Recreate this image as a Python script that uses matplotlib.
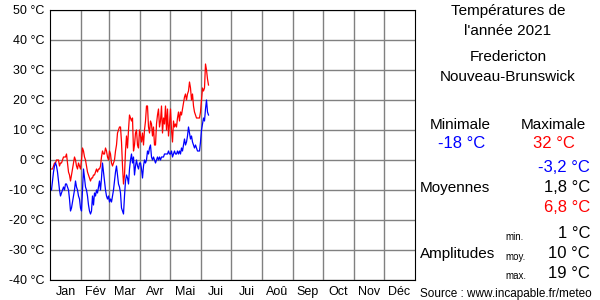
import numpy as np
import matplotlib.pyplot as plt

plt.rcParams['font.family'] = ['Liberation Sans', 'DejaVu Sans']

# daily max / min temperatures, from 1 January 2021
tmax = [-3, -3, -3, -2, -1, -1, 0, 0, 0, -2,
        -1, -1, 0, 1, 1, 1, 2, -1, -4, -5,
        -7, -5, -3, -1, 1, 0, -2, -3, -1, -2,
        -3, 0, 4, 3, 1, 0, -2, -4, -5, -6,
        -7, -6, -6, -5, -5, -4, -3, -4, -3, -3,
        -2, 1, 3, 2, 2, 4, 3, 1, 0, 3,
        2, -1, -2, -1, 0, 3, 5, 9, 10, 11,
        11, 6, -2, -8, -5, 3, 8, 4, 10, 15,
        14, 13, 14, 3, 5, 9, 10, 5, 4, 10,
        8, 6, 9, 5, 10, 13, 18, 18, 11, 9,
        13, 12, 8, 11, 5, 5, 12, 15, 17, 11,
        13, 18, 9, 14, 12, 18, 10, 17, 8, 12,
        17, 10, 6, 13, 11, 12, 11, 14, 16, 13,
        16, 15, 17, 19, 21, 22, 20, 22, 23, 26,
        24, 20, 22, 18, 16, 15, 14, 14, 14, 14,
        16, 20, 24, 23, 24, 32, 30, 27, 25]
tmin = [-10, -10, -7, -4, -2, -1, -2, -4, -7, -10,
        -12, -11, -10, -9, -10, -8, -8, -9, -10, -13,
        -17, -16, -14, -12, -10, -7, -9, -10, -12, -13,
        -16, -17, -10, -3, -6, -9, -10, -12, -15, -17,
        -18, -17, -12, -15, -11, -12, -10, -11, -9, -7,
        -10, -6, -1, -4, -7, -10, -12, -13, -12, -14,
        -13, -14, -12, -10, -7, -4, -2, -5, -8, -9,
        -11, -16, -17, -18, -12, -7, -5, -6, -8, -3,
        0, 2, -1, 1, -5, -2, 0, -2, -3, -1,
        -1, -3, -6, -2, 0, -1, 0, 3, 2, 4,
        5, 1, 0, 1, 0, -1, 0, 1, 0, 1,
        0, 1, 1, 1, 2, 2, 2, 2, 3, 2,
        2, 3, 1, 2, 3, 2, 2, 3, 2, 3,
        2, 4, 3, 5, 7, 5, 6, 8, 11, 9,
        7, 8, 6, 5, 4, 5, 4, 3, 3, 3,
        6, 10, 12, 14, 13, 17, 20, 16, 15]

months = ['Jan', 'Fév', 'Mar', 'Avr', 'Mai', 'Jui', 'Jui', 'Aoû', 'Sep', 'Oct', 'Nov', 'Déc']
month_len = [31, 28, 31, 30, 31, 30, 31, 31, 30, 31, 30, 31]

starts = np.concatenate([[0], np.cumsum(month_len)])
days = np.arange(len(tmax)) + 0.5

fig = plt.figure(figsize=(6, 3), dpi=100)
ax = fig.add_axes([50/600, 20/300, 365/600, 270/300])

ax.plot(days, tmax, color='red', lw=0.9)
ax.plot(days[:len(tmin)], tmin, color='blue', lw=0.9)

ax.set_xlim(0, 365)
ax.set_ylim(-40, 50)
ax.set_yticks(range(-40, 51, 10))
ax.set_yticklabels(['%d °C' % v for v in range(-40, 51, 10)], fontsize=9)
ax.set_xticks(starts[1:-1])
ax.set_xticklabels([])
ax.set_xticks((starts[:-1] + starts[1:]) / 2, minor=True)
ax.set_xticklabels(months, minor=True, fontsize=9)
ax.tick_params(which='both', length=0, pad=4)
ax.grid(True, color='#808080', lw=1)
ax.set_axisbelow(True)
for s in ax.spines.values():
    s.set_color('black')

def txt(x, y, s, **kw):
    fig.text(x/600, 1 - y/300, s, va='center', **kw)

txt(508, 11, 'Températures de', fontsize=11, ha='center')
txt(508, 31, "l'année 2021", fontsize=11, ha='center')
txt(508, 57, 'Fredericton', fontsize=11, ha='center')
txt(508, 77, 'Nouveau-Brunswick', fontsize=11, ha='center')
txt(460, 125, 'Minimale', fontsize=11, ha='center')
txt(553, 125, 'Maximale', fontsize=11, ha='center')
txt(462, 144, '-18 °C', fontsize=12, ha='center', color='blue')
txt(554, 144, '32 °C', fontsize=12, ha='center', color='red')
txt(420, 188, 'Moyennes', fontsize=11, ha='left')
txt(590, 167, '-3,2 °C', fontsize=12, ha='right', color='blue')
txt(590, 188, '1,8 °C', fontsize=12, ha='right')
txt(590, 208, '6,8 °C', fontsize=12, ha='right', color='red')
txt(420, 254, 'Amplitudes', fontsize=11, ha='left')
txt(505, 237, 'min.', fontsize=7, ha='left')
txt(505, 257, 'moy.', fontsize=7, ha='left')
txt(505, 276, 'max.', fontsize=7, ha='left')
txt(590, 233, '1 °C', fontsize=12, ha='right')
txt(590, 253, '10 °C', fontsize=12, ha='right')
txt(590, 273, '19 °C', fontsize=12, ha='right')
txt(420, 294, 'Source : www.incapable.fr/meteo', fontsize=8.5, ha='left')

fig.savefig('out.png', dpi=100)
